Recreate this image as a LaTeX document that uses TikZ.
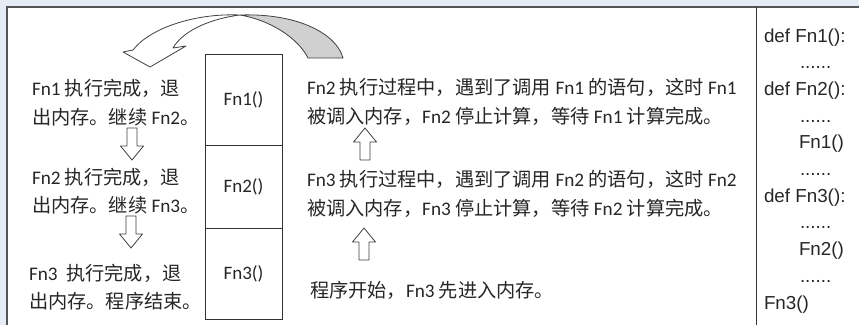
\documentclass[tikz,border=0pt]{standalone}
\usepackage{fontspec}
\setmainfont{Carlito}
\newfontfamily\zhfont{Noto Sans CJK SC}
\newfontfamily\codefont{Liberation Sans}
\newcommand{\zh}[1]{{\zhfont #1}}
\usetikzlibrary{positioning}
\definecolor{pagebg}{HTML}{E6ECF5}
\definecolor{framegray}{HTML}{555555}
\definecolor{ribbon}{HTML}{D0D0D0}

\begin{document}
\begin{tikzpicture}[
  x=1pt, y=-1pt,
  every node/.style={inner sep=0pt, outer sep=0pt, text=black!85},
  txt/.style={font=\fontsize{19.2}{28.5}\selectfont, align=left, anchor=west},
  stackbox/.style={draw=black!80, line width=0.9pt, minimum width=77pt, font=\fontsize{19}{22}\selectfont},
  codeline/.style={font=\codefont\fontsize{18.8}{22}\selectfont, anchor=base west},
  ribbonline/.style={draw=black!75, line width=0.8pt, line join=round},
  hollowdown/.pic={\draw[ribbonline, fill=white] (-5,-16) -- (5,-16) -- (5,2) -- (11.5,2)
      -- (0,16) -- (-11.5,2) -- (-5,2) -- cycle;}
]
\useasboundingbox (0,0) rectangle (859,325);
\fill[pagebg] (0,0) rectangle (859,325);
\fill[white] (7,7) rectangle (859,325);
\draw[framegray, line width=2pt] (7,325) -- (7,7) -- (859,7);
\draw[black!80, line width=1pt] (756,7) -- (756,325);

\node[stackbox, minimum height=91pt, anchor=north] (fnone) at (243.5,54) {Fn1()};
\node[stackbox, minimum height=83pt, below=0pt of fnone] (fntwo) {Fn2()};
\node[stackbox, minimum height=91pt, below=0pt of fntwo] (fnthree) {Fn3()};

\node[txt] (done1) at (32,102.5) {Fn1 \zh{执行完成，退}\\\zh{出内存。继续} Fn2\zh{。}};
\node[txt] (done2) at (32,191) {Fn2 \zh{执行完成，退}\\\zh{出内存。继续} Fn3\zh{。}};
\node[txt] (done3) at (29,287) {Fn3\ \ \zh{执行完成，退}\\\zh{出内存。程序结束。}};

\node[txt] (call1) at (307,102) {Fn2 \zh{执行过程中，遇到了调用} Fn1 \zh{的语句，这时} Fn1\\\zh{被调入内存，}Fn2 \zh{停止计算，等待} Fn1 \zh{计算完成。}};
\node[txt] (call2) at (307,194) {Fn3 \zh{执行过程中，遇到了调用} Fn2 \zh{的语句，这时} Fn2\\\zh{被调入内存，}Fn3 \zh{停止计算，等待} Fn2 \zh{计算完成。}};
\node[txt] (start) at (310,290) {\zh{程序开始，}Fn3 \zh{先进入内存。}};

\pic (down1) at (132,144) {hollowdown};
\pic (down2) at (131,232) {hollowdown};
\pic[rotate=180] (up1) at (365,144) {hollowdown};
\pic[rotate=180] (up2) at (364,244) {hollowdown};

\foreach \line/\dx [count=\i] in {{def Fn1():}/0, {......}/36, {def Fn2():}/0, {......}/36, {Fn1()}/35, {......}/36,
    {def Fn3():}/0, {......}/36, {Fn2()}/35, {......}/36, {Fn3()}/0}
  \node[codeline] (code\i) at (764+\dx, 42+26.7*\i-26.7) {\line};

\path[ribbonline, fill=ribbon] (240,15) .. controls (300,13) and (337,35) .. (343,58)
  -- (308,58) .. controls (298,38) and (270,20) .. (240,15) -- cycle;
\path[ribbonline, fill=white] (123,52) -- (150,67) -- (186,46) -- (173,48)
  .. controls (182,32) and (208,19) .. (240,15)
  .. controls (195,13) and (150,28) .. (133,50) -- cycle;
\end{tikzpicture}
\end{document}
